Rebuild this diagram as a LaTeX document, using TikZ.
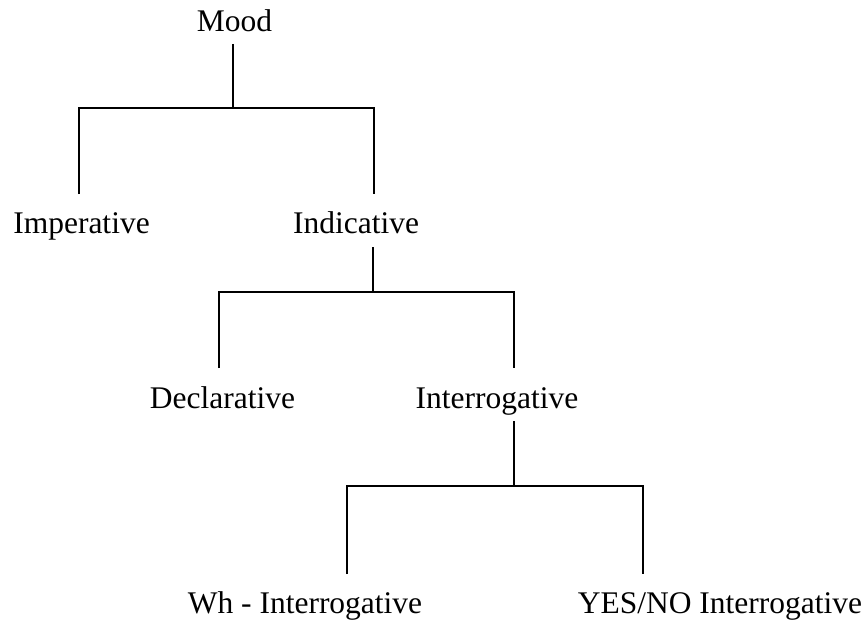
\documentclass[tikz,border=0pt]{standalone}
\usepackage{fontspec}
\setmainfont{Liberation Serif}
\usetikzlibrary{positioning}

\begin{document}
\begin{tikzpicture}[x=1pt, y=-1pt, line width=1.8pt]
    \tikzset{term/.style={anchor=base, inner sep=0pt, font=\fontsize{31.5}{36}\selectfont}}
    \useasboundingbox (0,0) rectangle (867,623);

    % Nodes
    \node[term] (mood)  at (234.5,32)  {Mood};
    \node[term] (imper) at (81.5,233)  {Imperative};
    \node[term] (indic) at (356,233)   {Indicative};
    \node[term] (decl)  at (222.5,408) {Declarative};
    \node[term] (inter) at (497,408)   {Interrogative};
    \node[term] (whq)   at (305,613)   {Wh - Interrogative};
    \node[term] (ynq)   at (720,613)   {YES/NO Interrogative};

    % Branch points
    \coordinate (mood-out)  at (233,44);
    \coordinate (mood-fork) at (233,108);
    \coordinate (imper-in)  at (79,194);
    \coordinate (indic-in)  at (374,194);
    \coordinate (indic-out)  at (373,247);
    \coordinate (indic-fork) at (373,292);
    \coordinate (decl-in)   at (219,368);
    \coordinate (inter-in)  at (514,368);
    \coordinate (inter-out)  at (514,421);
    \coordinate (inter-fork) at (514,486);
    \coordinate (whq-in)    at (347,574);
    \coordinate (ynq-in)    at (643,574);

    % Mood
    \draw (mood-out) -- (mood-fork);
    \draw (imper-in) -- (imper-in |- mood-fork) -- (indic-in |- mood-fork) -- (indic-in);

    % Indicative
    \draw (indic-out) -- (indic-fork);
    \draw (decl-in) -- (decl-in |- indic-fork) -- (inter-in |- indic-fork) -- (inter-in);

    % Interrogative
    \draw (inter-out) -- (inter-fork);
    \draw (whq-in) -- (whq-in |- inter-fork) -- (ynq-in |- inter-fork) -- (ynq-in);
\end{tikzpicture}
\end{document}
